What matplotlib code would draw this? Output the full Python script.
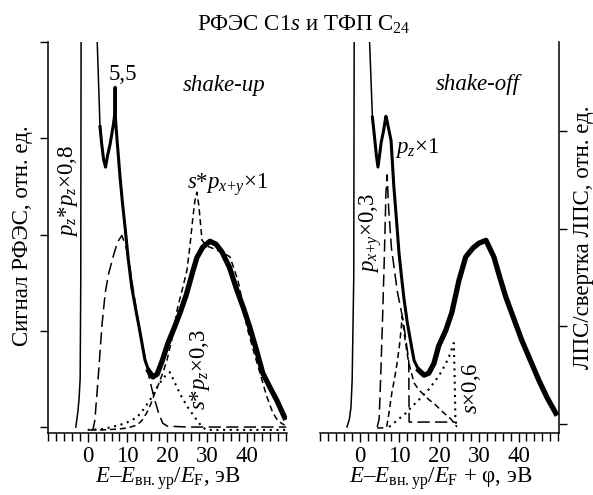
import numpy as np
import matplotlib
matplotlib.use("Agg")
import matplotlib.pyplot as plt
from matplotlib.ticker import MultipleLocator

plt.rcParams["font.family"] = ["Liberation Serif", "DejaVu Serif"]
plt.rcParams["mathtext.fontset"] = "custom"
plt.rcParams["mathtext.rm"] = "Liberation Serif"
plt.rcParams["mathtext.it"] = "Liberation Serif:italic"
plt.rcParams["mathtext.bf"] = "Liberation Serif:bold"
FS = 16.5

# ---- left panel: XPS C1s, shake-up ----
up_edge_e = [-3.0, -2.5, -2.2, -1.9, -1.75, -1.6, 2.2, 2.4, 3.1]
up_edge_v = [0.0, 0.15, 0.28, 0.5, 1.5, 6.0, 6.0, 4.0, 3.12]
up_sig_e = [3.1, 3.5, 4.0, 4.5, 5.0, 5.6, 6.1, 6.5, 6.8, 6.9, 7.0, 7.4, 8.1, 8.7,
            9.4, 10.2, 11.1, 12.2, 13.2, 14.4, 15.4, 16.4, 17.5, 18.7, 20.2, 21.7,
            23.2, 24.8, 26.5, 27.5, 29.0, 30.8, 32.3, 33.8, 35.7, 37.6, 39.2, 40.8,
            42.5, 44.1, 45.8, 47.6, 49.6]
up_sig_v = [3.12, 2.95, 2.78, 2.70, 2.82, 2.93, 3.05, 3.15, 3.25, 3.53, 3.2, 2.98, 2.62, 2.35,
            2.08, 1.75, 1.45, 1.2, 0.98, 0.70, 0.58, 0.52, 0.55, 0.68, 0.87, 1.02,
            1.18, 1.37, 1.62, 1.76, 1.87, 1.93, 1.9, 1.82, 1.66, 1.42, 1.24, 1.04,
            0.8, 0.56, 0.42, 0.28, 0.10]
pzpz_e = [0.8, 1.3, 1.8, 2.6, 3.6, 4.4, 5.2, 6.4, 7.5, 8.6, 9.6, 10.6, 11.5, 12.4, 13.7,
          14.9, 15.9, 16.9, 17.9, 18.9, 20, 25, 30, 40, 50]
pzpz_v = [-0.03, -0.03, 0.07, 0.49, 1.06, 1.39, 1.58, 1.77, 1.92, 1.99, 1.88, 1.66, 1.42, 1.18, 0.88,
          0.62, 0.44, 0.28, 0.14, 0.04, 0.01, 0.0, 0.0, 0.0, 0.0]
spxy_e = [0.6, 4, 8, 10, 12.4, 13.7, 14.9, 15.9, 16.9, 17.9, 18.9, 20, 21.3, 22.7, 23.9, 25.0,
          25.8, 26.5, 27.0, 27.5, 28.0, 28.8, 30, 31.3, 33.5, 35.8, 37.8, 39, 40.1, 41.7,
          43.4, 45, 46.6, 48, 49.6]
spxy_v = [-0.03, -0.03, -0.02, -0.01, 0.02, 0.07, 0.15, 0.24, 0.35, 0.45, 0.56, 0.7, 0.93, 1.25, 1.44, 1.63,
          1.9, 2.18, 2.35, 2.44, 2.3, 1.94, 1.88, 1.86, 1.82, 1.77, 1.53, 1.3, 1.04, 0.8,
          0.56, 0.33, 0.15, 0.06, 0.02]
spz_e = [0, 4, 8, 10, 12.4, 14, 15.7, 17, 18.2, 19.5, 20.7, 21.5, 22.5, 23.7, 25.3, 27, 28.8, 30, 40, 50]
spz_v = [-0.03, -0.02, 0.02, 0.05, 0.1, 0.18, 0.28, 0.38, 0.46, 0.53, 0.57, 0.5, 0.41, 0.31, 0.2, 0.1, 0.0,
         -0.03, -0.03, -0.03]

# ---- right panel: DOS, shake-off ----
off_edge_e = [-3.2, -2.6, -2.2, -1.9, -1.5, -1.3, 2.4, 2.5, 3.2]
off_edge_v = [-0.03, 0.05, 0.17, 0.45, 1.5, 6.0, 6.0, 3.9, 3.14]
off_sig_e = [3.2, 3.7, 4.2, 4.6, 5.0, 5.4, 6.0, 6.6, 6.9, 7.4, 7.9, 8.6, 9.4, 9.9, 10.5, 11.1,
             11.9, 12.8, 13.7, 14.9, 16.2, 17.4, 18.7, 19.9, 21.7, 23.2, 25.0, 26.7, 28.5,
             30.0, 31.8, 33.8, 35.3, 36.8, 38.8, 40.8, 43.0, 45.1, 47.2, 49.4]
off_sig_v = [3.14, 2.95, 2.75, 2.63, 2.75, 2.88, 3.0, 3.15, 3.1, 3.0, 2.9, 2.43, 2.02, 1.75, 1.52, 1.30,
             1.06, 0.85, 0.65, 0.55, 0.50, 0.52, 0.62, 0.8, 0.96, 1.14, 1.47, 1.71, 1.8,
             1.85, 1.88, 1.71, 1.5, 1.30, 1.08, 0.86, 0.65, 0.45, 0.27, 0.11]
pxy_e = [4.4, 4.9, 5.3, 5.7, 6.2, 6.6, 6.9, 7.3, 8.0, 9.5, 11.0, 12.35, 12.45, 18, 24]
pxy_v = [-0.03, 0.05, 0.5, 1.0, 1.7, 2.35, 2.55, 2.2, 1.8, 1.35, 1.05, 0.65, 0.02, 0.02, 0.02]
pz_e = [4.4, 6.0, 6.8, 7.4, 8.1, 8.8, 9.4, 10.0, 10.4, 10.7, 11.1, 11.9, 12.4, 13.7, 14.9,
        17.4, 19.0, 21.0, 23.0, 24.5]
pz_v = [-0.04, -0.04, -0.03, 0.12, 0.32, 0.47, 0.62, 0.8, 0.96, 1.1, 0.96, 0.73, 0.62, 0.42, 0.35,
        0.25, 0.2, 0.12, 0.05, -0.03]
s_e = [7.4, 9.5, 11.6, 13.7, 15.7, 17.5, 19.2, 20.5, 21.7, 22.8, 23.7, 23.9, 24.1, 24.5]
s_v = [-0.03, 0.04, 0.11, 0.2, 0.28, 0.36, 0.45, 0.53, 0.62, 0.72, 0.83, 0.5, 0.05, -0.04]

LONG = (0, (8, 3.5))
SHORT = (0, (4, 2.5))
DOT = (0, (1, 2.2))

W, H = 593, 495
fig = plt.figure(figsize=(W / 100, H / 100), dpi=100)
axL = fig.add_axes([48 / W, 1 - 433 / H, 239 / W, 391 / H])
axR = fig.add_axes([320 / W, 1 - 433 / H, 239 / W, 391 / H])

def style(ax, side):
    ax.set_xlim(-10, 50.2)
    ax.xaxis.set_major_locator(MultipleLocator(10))
    ax.xaxis.set_minor_locator(MultipleLocator(2))
    for s in ["top", "left", "right"]:
        ax.spines[s].set_visible(False)
    ax.spines[side].set_visible(True)
    for s in ax.spines.values():
        s.set_linewidth(1.1)
    ax.tick_params(axis="x", which="both", direction="out", width=1.0, labelsize=FS, pad=2.5)
    ax.tick_params(axis="x", which="major", length=6.5)
    ax.tick_params(axis="x", which="minor", length=5.5)
    ax.set_xticks([0, 10, 20, 30, 40])
    ax.yaxis.set_ticks_position(side)
    ax.tick_params(axis="y", direction="out", length=6, width=1.0, labelleft=False, labelright=False)

style(axL, "left")
axL.set_ylim(-0.062, 4.0)
axL.set_yticks([0, 1, 2, 3, 4])
style(axR, "right")
axR.set_ylim(-0.092, 3.91)
axR.set_yticks([0, 1, 2, 3])

def spectrum(ax, edge_e, edge_v, sig_e, sig_v, split_e):
    ax.plot(edge_e, edge_v, color="black", lw=1.1)
    k = sig_e.index(split_e)
    ax.plot(sig_e[:k + 1], sig_v[:k + 1], color="black", lw=2.2)
    ax.plot(sig_e[k:], sig_v[k:], color="black", lw=3.8)

# left curves
spectrum(axL, up_edge_e, up_edge_v, up_sig_e, up_sig_v, 15.4)
axL.plot(pzpz_e, pzpz_v, color="black", lw=1.1, ls=LONG)
axL.plot(spxy_e, spxy_v, color="black", lw=1.1, ls=SHORT)
axL.plot(spz_e, spz_v, color="black", lw=1.5, ls=DOT)

# right curves
spectrum(axR, off_edge_e, off_edge_v, off_sig_e, off_sig_v, 14.9)
axR.plot(pxy_e, pxy_v, color="black", lw=1.1, ls=LONG)
axR.plot(pz_e, pz_v, color="black", lw=1.1, ls=SHORT)
axR.plot(s_e, s_v, color="black", lw=1.5, ls=DOT)

# annotations left
axL.text(8.9, 3.66, "5,5", fontsize=FS, ha="center", va="center")
axL.text(34.3, 3.55, "shake-up", fontsize=FS, style="italic", ha="center", va="center")
axL.text(35.3, 2.52, r"$s$*$p_{x\!+\!y}$×1", fontsize=FS, ha="center", va="center")
axL.text(-4.95, 2.45, r"$p_z$*$p_z$×0,8", fontsize=FS, ha="center", va="center", rotation=90)
axL.text(28.3, 0.6, r"$s$*$p_z$×0,3", fontsize=FS, ha="center", va="center", rotation=90)

# annotations right
axR.text(29.8, 3.47, "shake-off", fontsize=FS, style="italic", ha="center", va="center")
axR.text(14.4, 2.83, r"$p_z$×1", fontsize=FS, ha="center", va="center")
axR.text(2.8, 1.95, r"$p_{x\!+\!y}$×0,3", fontsize=FS, ha="center", va="center", rotation=90)
axR.text(28.2, 0.37, r"$s$×0,6", fontsize=FS, ha="center", va="center", rotation=90)

fig.text(304 / W, 1 - 25 / H, r"РФЭС C1$s$ и ТФП C$_{24}$", fontsize=FS, ha="center", va="center")
fig.text(23 / W, 1 - 236 / H, "Сигнал РФЭС, отн. ед.", fontsize=FS, rotation=90, ha="center", va="center")
fig.text(584 / W, 1 - 237 / H, "ЛПС/свертка ЛПС, отн. ед.", fontsize=FS, rotation=90, ha="center", va="center")
fig.text(168 / W, 1 - 492 / H, r"$E$–$E_{\rm вн.ур}$/$E_{\rm F}$, эВ", fontsize=FS, ha="center", va="bottom")
fig.text(441 / W, 1 - 492 / H, r"$E$–$E_{\rm вн.ур}$/$E_{\rm F}$ + φ, эВ", fontsize=FS, ha="center", va="bottom")

fig.savefig("out.png", dpi=100)
